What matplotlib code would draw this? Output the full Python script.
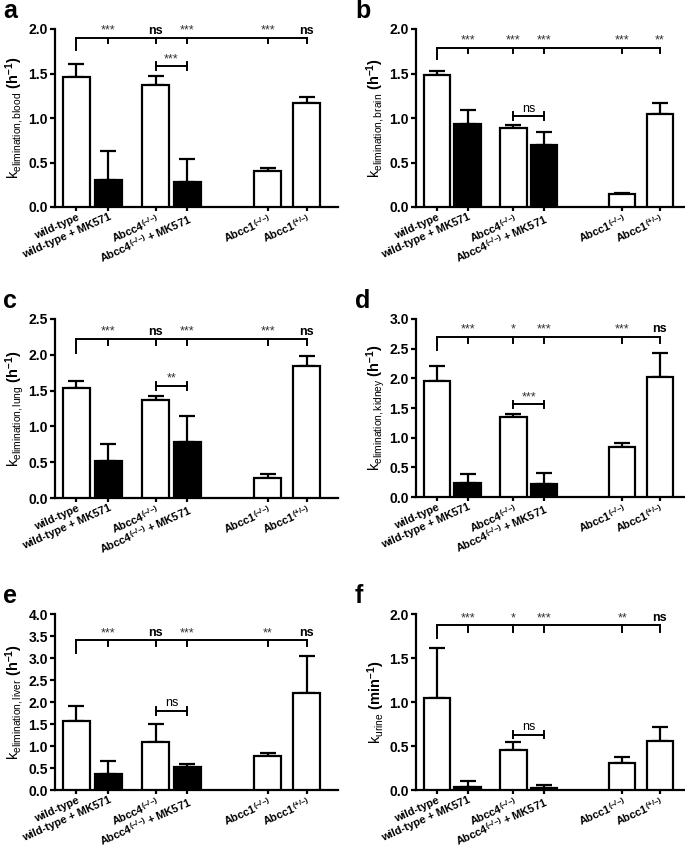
import matplotlib
matplotlib.use('Agg')
import matplotlib.pyplot as plt

plt.rcParams['font.family'] = ['Liberation Sans', 'DejaVu Sans']
plt.rcParams['mathtext.fontset'] = 'custom'
plt.rcParams['mathtext.rm'] = 'Liberation Sans'
plt.rcParams['mathtext.bf'] = 'Liberation Sans:bold'
plt.rcParams['mathtext.it'] = 'Liberation Sans:italic'
plt.rcParams['mathtext.default'] = 'regular'

# ---------------- data ----------------
groups = ['wild-type', 'wild-type + MK571', 'Abcc4$^{(\u2013/\u2013)}$',
          'Abcc4$^{(\u2013/\u2013)}$ + MK571', 'Abcc1$^{(\u2013/\u2013)}$',
          'Abcc1$^{(+/\u2013)}$']
treated = [False, True, False, True, False, False]

blood_mean = [1.46, 0.30, 1.37, 0.28, 0.41, 1.17]
blood_err = [0.15, 0.33, 0.10, 0.26, 0.03, 0.07]
blood_sig = ['***', 'ns', '***', '***', 'ns']
blood_inner = '***'

brain_mean = [1.48, 0.93, 0.89, 0.70, 0.15, 1.05]
brain_err = [0.05, 0.16, 0.03, 0.14, 0.01, 0.12]
brain_sig = ['***', '***', '***', '***', '**']
brain_inner = 'ns'

lung_mean = [1.53, 0.52, 1.37, 0.78, 0.28, 1.85]
lung_err = [0.10, 0.24, 0.05, 0.37, 0.06, 0.13]
lung_sig = ['***', 'ns', '***', '***', 'ns']
lung_inner = '**'

kidney_mean = [1.95, 0.24, 1.35, 0.22, 0.85, 2.02]
kidney_err = [0.25, 0.14, 0.05, 0.18, 0.06, 0.40]
kidney_sig = ['***', '*', '***', '***', 'ns']
kidney_inner = '***'

liver_mean = [1.56, 0.37, 1.09, 0.52, 0.77, 2.21]
liver_err = [0.36, 0.30, 0.42, 0.07, 0.06, 0.83]
liver_sig = ['***', 'ns', '***', '**', 'ns']
liver_inner = 'ns'

urine_mean = [1.04, 0.03, 0.45, 0.02, 0.31, 0.56]
urine_err = [0.57, 0.07, 0.09, 0.04, 0.07, 0.16]
urine_sig = ['***', '*', '***', '**', 'ns']
urine_inner = 'ns'

# ---------------- layout ----------------
xpos = [0, 1, 2.48, 3.48, 6.0, 7.22]
W, H = 685, 852
fig = plt.figure(figsize=(W / 100, H / 100), dpi=100)

def ylab(sub, unit):
    return 'k$_{%s}$ $\\mathbf{(%s^{\u20131})}$' % (sub, unit)

panels = [
    dict(letter='a', mean=blood_mean, err=blood_err, sig=blood_sig, inner=blood_inner,
         ylab=ylab('elimination,blood', 'h'), ymax=2.0, step=0.5,
         box=(55, 29, 283, 178), xmax=8.2, br=(1.90, 1.76, 1.84), ib=1.58, lx=3),
    dict(letter='b', mean=brain_mean, err=brain_err, sig=brain_sig, inner=brain_inner,
         ylab=ylab('elimination,brain', 'h'), ymax=2.0, step=0.5,
         box=(416, 29, 268, 178), xmax=8.0, br=(1.79, 1.66, 1.73), ib=1.02, lx=355),
    dict(letter='c', mean=lung_mean, err=lung_err, sig=lung_sig, inner=lung_inner,
         ylab=ylab('elimination,lung', 'h'), ymax=2.5, step=0.5,
         box=(55, 319, 283, 179), xmax=8.2, br=(2.22, 2.03, 2.14), ib=1.56, lx=3),
    dict(letter='d', mean=kidney_mean, err=kidney_err, sig=kidney_sig, inner=kidney_inner,
         ylab=ylab('elimination,kidney', 'h'), ymax=3.0, step=0.5,
         box=(416, 319, 268, 178), xmax=8.0, br=(2.70, 2.47, 2.60), ib=1.56, lx=355),
    dict(letter='e', mean=liver_mean, err=liver_err, sig=liver_sig, inner=liver_inner,
         ylab=ylab('elimination,liver', 'h'), ymax=4.0, step=0.5,
         box=(55, 614, 283, 176), xmax=8.2, br=(3.40, 3.12, 3.27), ib=1.80, lx=3),
    dict(letter='f', mean=urine_mean, err=urine_err, sig=urine_sig, inner=urine_inner,
         ylab=ylab('urine', 'min'), ymax=2.0, step=0.5,
         box=(416, 614, 268, 176), xmax=8.0, br=(1.87, 1.73, 1.80), ib=0.63, lx=355),
]

LW = 1.6
for p in panels:
    x0, y0, w, h = p['box']
    ax = fig.add_axes([x0 / W, 1 - (y0 + h) / H, w / W, h / H])
    colors = ['black' if t else 'white' for t in treated]
    ax.bar(xpos, p['mean'], width=0.85, color=colors, edgecolor='black',
           linewidth=LW, zorder=3)
    ax.errorbar(xpos, p['mean'], yerr=[[0] * len(xpos), p['err']], fmt='none',
                ecolor='black', elinewidth=LW, capsize=5.5, capthick=LW, zorder=2)
    ax.set_xlim(-0.67, p['xmax'])
    ax.set_ylim(0, p['ymax'])
    n = int(round(p['ymax'] / p['step']))
    ticks = [i * p['step'] for i in range(n + 1)]
    ax.set_yticks(ticks)
    ax.set_yticklabels(['%.1f' % t for t in ticks], fontweight='bold', fontsize=10)
    ax.set_xticks(xpos)
    ax.set_xticklabels(groups, rotation=24, ha='right', rotation_mode='anchor',
                       fontweight='bold', fontsize=7.9)
    ax.tick_params(axis='both', width=LW, length=3.5, pad=1.5)
    ax.tick_params(axis='x', length=3, pad=0.5)
    for s in ['top', 'right']:
        ax.spines[s].set_visible(False)
    for s in ['left', 'bottom']:
        ax.spines[s].set_linewidth(LW)
    ax.set_ylabel(p['ylab'], fontsize=10.5, labelpad=2)

    # significance brackets vs wild-type
    by, bdrop, btick = p['br']
    kw = dict(color='black', linewidth=1.4, clip_on=False, zorder=4)
    ax.plot([xpos[0], xpos[-1]], [by, by], **kw)
    ax.plot([xpos[0], xpos[0]], [by, bdrop], **kw)
    for xi, lab in zip(xpos[1:], p['sig']):
        ax.plot([xi, xi], [by, btick], **kw)
        ax.annotate(lab, (xi, by), xytext=(0, 1.0), textcoords='offset points',
                    ha='center', va='bottom', fontsize=9,
                    fontweight='bold' if lab == 'ns' else 'normal',
                    color='black' if lab == 'ns' else '#333333',
                    annotation_clip=False)
    # inner bracket between Abcc4 and Abcc4 + MK571
    ib = p['ib']
    d = p['ymax'] * 0.022
    ax.plot([xpos[2], xpos[3]], [ib, ib], **kw)
    ax.plot([xpos[2], xpos[2]], [ib - d, ib + d], **kw)
    ax.plot([xpos[3], xpos[3]], [ib - d, ib + d], **kw)
    ax.annotate(p['inner'], ((xpos[2] + xpos[3]) / 2, ib), xytext=(0, 1.0),
                textcoords='offset points', ha='center', va='bottom',
                fontsize=9, color='black' if p['inner'] == 'ns' else '#333333',
                annotation_clip=False)

    # panel letter
    fig.text(p['lx'] / W, 1 - (y0 - 11) / H, p['letter'], fontsize=18,
             fontweight='bold', ha='left', va='baseline')

fig.savefig('out.png', dpi=100)
